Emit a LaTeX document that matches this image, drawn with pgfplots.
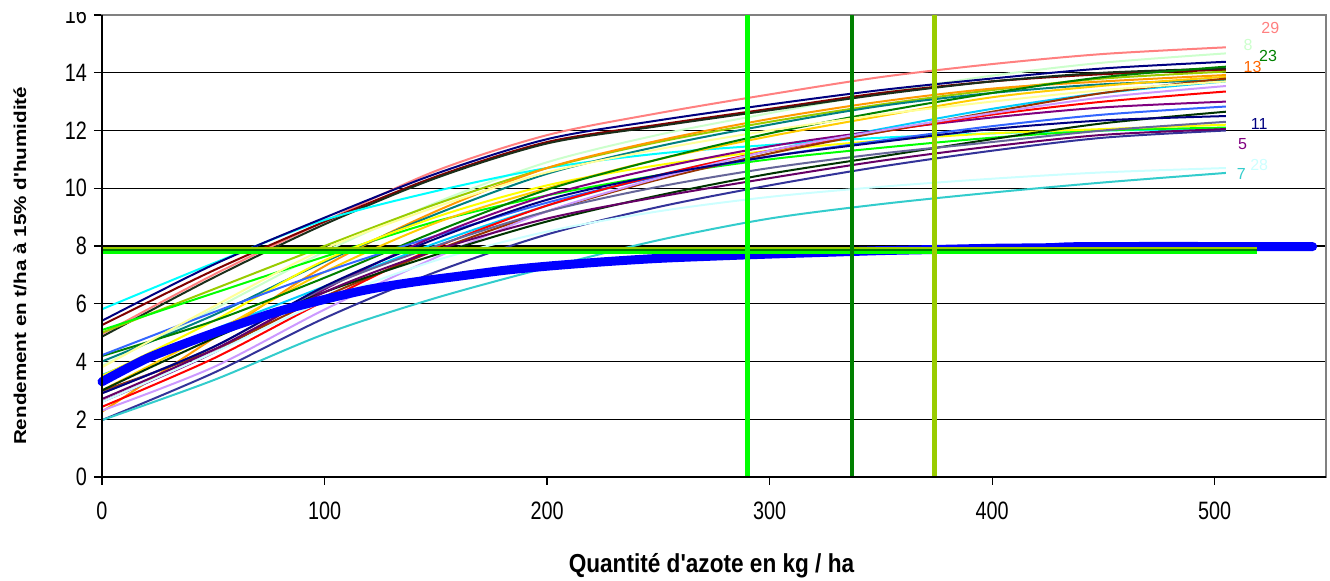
\documentclass[border=0pt]{standalone}
\usepackage{pgfplots}
\pgfplotsset{compat=1.18}
\usepackage{fontspec}
\setmainfont{Liberation Sans}
\definecolor{cSalmon}{HTML}{FF8080}
\definecolor{cNavy}{HTML}{000080}
\definecolor{cDarkred}{HTML}{800000}
\definecolor{cDkgreen}{HTML}{003300}
\definecolor{cCyan}{HTML}{00FFFF}
\definecolor{cSky}{HTML}{00CCFF}
\definecolor{cLtgreen}{HTML}{CCFFCC}
\definecolor{cYgreen}{HTML}{99CC00}
\definecolor{cLime}{HTML}{00FF00}
\definecolor{cOrange}{HTML}{FF9900}
\definecolor{cOrangeLbl}{HTML}{FF6600}
\definecolor{cTeal}{HTML}{008080}
\definecolor{cYellow}{HTML}{FFFF00}
\definecolor{cGold}{HTML}{FFCC00}
\definecolor{cGreen}{HTML}{008000}
\definecolor{cRoyal}{HTML}{3366FF}
\definecolor{cPurple}{HTML}{800080}
\definecolor{cRed}{HTML}{FF0000}
\definecolor{cBrown}{HTML}{993300}
\definecolor{cLavender}{HTML}{CC99FF}
\definecolor{cIndigo}{HTML}{333399}
\definecolor{cSeaTeal}{HTML}{33CCCC}
\definecolor{cLtcyan}{HTML}{CCFFFF}
\definecolor{cBlkgreen}{HTML}{1A2E1A}
\definecolor{cDkpurple}{HTML}{660066}
\definecolor{cSlate}{HTML}{666699}
\definecolor{cLtyellow}{HTML}{FFFF99}
\definecolor{cBlue}{HTML}{0000FF}
\begin{document}
\begin{tikzpicture}
\begin{axis}[
  width=612pt, height=231pt, scale only axis,
  xmin=0, xmax=550, ymin=0, ymax=16,
  xtick={0,100,200,300,400,500},
  ytick={0,2,4,6,8,10,12,14,16},
  xtick pos=left, ytick pos=left,
  tick align=outside,
  major tick length=4pt,
  tick style={black, line width=0.6pt},
  ymajorgrids,
  grid style={black, line width=0.6pt},
  axis line style={draw=gray, line width=0.8pt},
  /pgf/number format/assume math mode=true,
  ticklabel style={font=\fontsize{9.9}{11}\selectfont, yscale=1.27},
  xticklabel style={yshift=-3.2pt},
  xlabel={\textbf{Quantité d\textquotesingle azote en kg / ha}},
  ylabel={\textbf{Rendement en t/ha à 15\% d\textquotesingle humidité}},
  xlabel style={font=\fontsize{11.3}{13}\selectfont, yscale=1.15, at={(axis description cs:0.498,0)}, anchor=center, yshift=-38.7pt},
  ylabel style={font=\fontsize{8.6}{10}\selectfont, at={(axis description cs:-0.067,0.457)}, anchor=center, rotate=0, xscale=1.2},
  every axis plot/.append style={line width=1pt, smooth, tension=0.5, mark=none},
  clip=false,
]
% curves: x = 0,50,100,...,450,505
\addplot[cSalmon] coordinates {(0,4.95)(50,7.0)(100,8.85)(150,10.6)(200,11.84)(250,12.6)(300,13.25)(350,13.85)(400,14.3)(450,14.65)(505,14.88)};
\addplot[cLtgreen] coordinates {(0,3.85)(50,5.8)(100,7.8)(150,9.5)(200,10.9)(250,11.85)(300,12.6)(350,13.3)(400,13.9)(450,14.35)(505,14.67)};
\addplot[cDarkred] coordinates {(0,5.26)(50,7.15)(100,8.84)(150,10.4)(200,11.6)(250,12.2)(300,12.75)(350,13.3)(400,13.7)(450,13.95)(505,14.1)};
\addplot[cBlkgreen] coordinates {(0,4.86)(50,6.9)(100,8.75)(150,10.35)(200,11.55)(250,12.15)(300,12.7)(350,13.25)(400,13.7)(450,14.0)(505,14.15)};
\addplot[cCyan] coordinates {(0,5.81)(50,7.4)(100,8.9)(150,9.9)(200,10.7)(250,11.2)(300,11.5)(350,11.75)(400,11.9)(450,12.0)(505,12.05)};
\addplot[cSky] coordinates {(0,3.53)(50,5.1)(100,6.6)(150,8.1)(200,9.4)(250,10.45)(300,11.3)(350,12.05)(400,12.75)(450,13.3)(505,13.7)};
\addplot[cYgreen] coordinates {(0,5.0)(50,6.5)(100,8.0)(150,9.45)(200,10.7)(250,11.6)(300,12.3)(350,12.9)(400,13.4)(450,13.8)(505,14.04)};
\addplot[cLime] coordinates {(0,5.09)(50,6.36)(100,7.63)(150,8.85)(200,9.75)(250,10.45)(300,11.0)(350,11.4)(400,11.75)(450,12.0)(505,12.1)};
\addplot[cOrange] coordinates {(0,2.26)(50,4.8)(100,7.3)(150,9.2)(200,10.7)(250,11.65)(300,12.4)(350,13.0)(400,13.45)(450,13.7)(505,13.92)};
\addplot[cTeal] coordinates {(0,4.0)(50,5.6)(100,7.45)(150,9.1)(200,10.5)(250,11.45)(300,12.2)(350,12.85)(400,13.3)(450,13.6)(505,13.75)};
\addplot[cYellow] coordinates {(0,3.5)(50,5.4)(100,7.5)(150,9.0)(200,10.1)(250,10.8)(300,11.3)(350,11.65)(400,11.9)(450,12.05)(505,12.2)};
\addplot[cGold] coordinates {(0,3.0)(50,5.0)(100,7.1)(150,8.8)(200,10.0)(250,11.0)(300,11.8)(350,12.5)(400,13.15)(450,13.55)(505,13.86)};
\addplot[cGreen] coordinates {(0,4.19)(50,5.4)(100,6.9)(150,8.5)(200,9.95)(250,11.0)(300,11.9)(350,12.65)(400,13.3)(450,13.85)(505,14.21)};
\addplot[cRoyal] coordinates {(0,4.22)(50,5.7)(100,7.1)(150,8.35)(200,9.5)(250,10.4)(300,11.1)(350,11.65)(400,12.15)(450,12.55)(505,12.83)};
\addplot[cPurple] coordinates {(0,2.61)(50,4.3)(100,6.5)(150,8.35)(200,9.75)(250,10.7)(300,11.45)(350,12.0)(400,12.45)(450,12.8)(505,13.0)};
\addplot[cRed] coordinates {(0,2.43)(50,4.1)(100,6.1)(150,7.95)(200,9.4)(250,10.45)(300,11.3)(350,11.95)(400,12.55)(450,13.0)(505,13.35)};
\addplot[cBrown] coordinates {(0,2.98)(50,4.4)(100,6.25)(150,7.85)(200,9.2)(250,10.3)(300,11.2)(350,11.95)(400,12.65)(450,13.3)(505,13.8)};
\addplot[cLavender] coordinates {(0,2.3)(50,3.8)(100,5.8)(150,7.6)(200,9.2)(250,10.35)(300,11.3)(350,12.0)(400,12.6)(450,13.15)(505,13.54)};
\addplot[cIndigo] coordinates {(0,1.97)(50,3.6)(100,5.5)(150,7.1)(200,8.4)(250,9.35)(300,10.1)(350,10.75)(400,11.3)(450,11.75)(505,12.0)};
\addplot[cSeaTeal] coordinates {(0,1.97)(50,3.35)(100,4.95)(150,6.2)(200,7.25)(250,8.2)(300,8.95)(350,9.45)(400,9.85)(450,10.2)(505,10.53)};
\addplot[cLtcyan] coordinates {(0,2.6)(50,4.3)(100,6.1)(150,7.5)(200,8.5)(250,9.2)(300,9.7)(350,10.05)(400,10.33)(450,10.55)(505,10.7)};
\addplot[cDkgreen] coordinates {(0,3.0)(50,4.8)(100,6.4)(150,7.7)(200,8.85)(250,9.75)(300,10.5)(350,11.1)(400,11.7)(450,12.25)(505,12.65)};
\addplot[cDkpurple] coordinates {(0,2.7)(50,4.4)(100,6.4)(150,7.85)(200,8.95)(250,9.7)(300,10.35)(350,10.95)(400,11.45)(450,11.85)(505,12.05)};
\addplot[cSlate] coordinates {(0,2.9)(50,4.5)(100,6.55)(150,8.0)(200,9.2)(250,10.05)(300,10.7)(350,11.2)(400,11.6)(450,12.0)(505,12.3)};
\addplot[cNavy] coordinates {(0,2.9)(50,4.5)(100,6.6)(150,8.25)(200,9.6)(250,10.45)(300,11.1)(350,11.6)(400,12.05)(450,12.35)(505,12.5)};
\addplot[cLtyellow] coordinates {(0,3.8)(50,5.9)(100,7.9)(150,9.35)(200,10.55)(250,11.35)(300,12.0)(350,12.55)(400,13.0)(450,13.4)(505,13.7)};
\addplot[cNavy] coordinates {(0,5.41)(50,7.35)(100,8.98)(150,10.5)(200,11.7)(250,12.35)(300,12.9)(350,13.4)(400,13.8)(450,14.15)(505,14.38)};
% thick blue curve
\addplot[cBlue, line width=4.5pt, line cap=round] coordinates {(0,3.3)(20,4.1)(40,4.7)(60,5.25)(80,5.75)(100,6.15)(120,6.5)(140,6.75)(160,6.95)(180,7.15)(200,7.3)(225,7.45)(250,7.57)(275,7.65)(300,7.72)(325,7.78)(350,7.84)(375,7.88)(400,7.92)(425,7.94)(445,7.98)(544,7.98)};
% horizontal reference lines
\addplot[cYgreen, line width=1.5pt, sharp plot] coordinates {(0,7.9)(519,7.9)};
\addplot[cGreen, line width=1.2pt, sharp plot] coordinates {(0,7.84)(519,7.84)};
\addplot[cLime, line width=1.5pt, sharp plot] coordinates {(0,7.76)(519,7.76)};
% vertical reference lines
\addplot[cLime, line width=2.2pt, sharp plot] coordinates {(290,0)(290,16)};
\addplot[cGreen, line width=2.2pt, sharp plot] coordinates {(337,0)(337,16)};
\addplot[cYgreen, line width=2.2pt, sharp plot] coordinates {(374,0)(374,16)};
% black left and bottom axis lines
\draw[black, line width=0.8pt] (rel axis cs:0,1) -- (rel axis cs:0,0) -- (rel axis cs:1,0);
% curve labels
\begin{scope}[every node/.style={font=\fontsize{8}{10}\selectfont, inner sep=0pt}]
\node[text=cSalmon] at (axis cs:525,15.55) {29};
\node[text=cLtgreen] at (axis cs:515,14.96) {8};
\node[text=cGreen] at (axis cs:524,14.58) {23};
\node[text=cOrangeLbl] at (axis cs:517,14.2) {13};
\node[text=cNavy] at (axis cs:520,12.22) {11};
\node[text=cPurple] at (axis cs:512.5,11.53) {5};
\node[text=cLtcyan] at (axis cs:520,10.8) {28};
\node[text=cSeaTeal] at (axis cs:512,10.5) {7};
\end{scope}
\end{axis}
\fill[white] (-51pt,232.6pt) rectangle (0pt,240pt);
\pgfresetboundingbox
\path (-51pt,-52pt) rectangle (614pt,238.5pt);
\end{tikzpicture}
\end{document}
